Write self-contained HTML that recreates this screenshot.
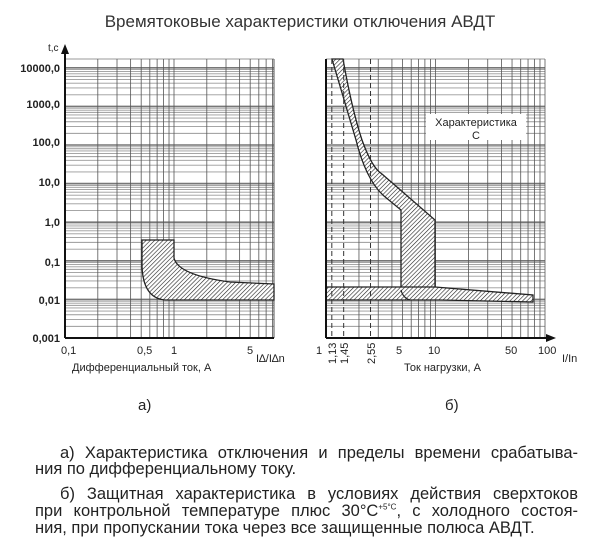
<!DOCTYPE html>
<html><head><meta charset="utf-8">
<style>
body{margin:0;background:#fff;width:600px;height:551px;overflow:hidden;position:relative;font-family:"Liberation Sans",sans-serif;}
svg{position:absolute;left:0;top:0}
.l{position:absolute;left:35px;width:543px;font-size:16.5px;line-height:17px;color:#222;text-align:justify;text-align-last:justify;white-space:nowrap;}
.l.n{text-align-last:left}
</style></head><body>
<svg id="s" width="600" height="551" xmlns="http://www.w3.org/2000/svg" font-family="Liberation Sans, sans-serif">
<defs>
<pattern id="h" width="3" height="3" patternUnits="userSpaceOnUse" patternTransform="rotate(45)">
<rect width="3" height="3" fill="#fff"/><line x1="0" y1="0" x2="0" y2="3" stroke="#222" stroke-width="1.2"/></pattern>
</defs>
<text x="300" y="27" font-size="17" text-anchor="middle" fill="#333">Времятоковые характеристики отключения АВДТ</text>
<g id="g"></g>
<g font-size="11" fill="#222" text-anchor="end" font-weight="bold">
<text x="60" y="72">10000,0</text><text x="60" y="108">1000,0</text><text x="60" y="146">100,0</text>
<text x="60" y="186">10,0</text><text x="60" y="226">1,0</text><text x="60" y="266">0,1</text>
<text x="60" y="304">0,01</text><text x="60" y="342">0,001</text>
</g>
<text x="48" y="51" font-size="10" fill="#222">t,c</text>
<g font-size="11" fill="#222">
<text x="61" y="354">0,1</text><text x="137" y="354">0,5</text><text x="171" y="354">1</text><text x="247" y="354">5</text>
<text x="256" y="362">I∆/I∆n</text>
<text x="72" y="371">Дифференциальный ток, А</text>
<text x="316" y="354">1</text><text x="396" y="354">5</text><text x="428" y="354">10</text>
<text x="505" y="354">50</text><text x="538" y="354">100</text><text x="562" y="362">I/In</text>
<text x="404" y="371">Ток нагрузки, А</text>
<text transform="translate(336,364) rotate(-90)">1,13</text>
<text transform="translate(348,364) rotate(-90)">1,45</text>
<text transform="translate(375,364) rotate(-90)">2,55</text>
</g>
<text x="138" y="410" font-size="15" fill="#222">а)</text>
<text x="445" y="410" font-size="15" fill="#222">б)</text>
</svg>
<div class="l" style="top:445px;left:60px;width:518px">а) Характеристика отключения и пределы времени срабатыва-</div>
<div class="l n" style="top:461px">ния по дифференциальному току.</div>
<div class="l" style="top:486px;left:60px;width:518px">б) Защитная характеристика в условиях действия сверхтоков</div>
<div class="l" style="top:503px">при контрольной температуре плюс 30°С<sup style="font-size:8px;line-height:0">+5°С</sup>, с холодного состоя-</div>
<div class="l n" style="top:520px">ния, при пропускании тока через все защищенные полюса АВДТ.</div>
<script>
const g=document.getElementById('g');let h='';
const Y=t=>338-38.6*(Math.log10(t)+3);
function grid(x0,x1,vs,X){
 for(let d=-3;d<=4;d++)for(let m=1;m<10;m++){const y=Y(m*Math.pow(10,d));if(y<59)continue;
  h+=`<line x1="${x0}" x2="${x1}" y1="${y}" y2="${y}" stroke="${m==1?'#777':'#999'}" stroke-width="${m==1?1.6:0.9}"/>`;}
 h+=`<line x1="${x0}" x2="${x1}" y1="59" y2="59" stroke="#999"/>`;
 vs.forEach(v=>{const x=X(v);h+=`<line x1="${x}" x2="${x}" y1="59" y2="338" stroke="#555" stroke-width="0.8"/>`;});
}
const XL=v=>65+109*Math.log10(v/0.1), XR=v=>326+109.5*Math.log10(v);
let vl=[];for(let i=2;i<=9;i++)vl.push(i/10);for(let i=1;i<=8;i++)vl.push(i);
grid(65,274,vl,XL);h+=`<line x1="274" x2="274" y1="59" y2="338" stroke="#555"/>`;
let vr=[];for(let i=2;i<=10;i++)vr.push(i);for(let i=20;i<=100;i+=10)vr.push(i);
grid(326,545,vr,XR);
h+=`<path d="M142,240 L174,240 L174,258 Q178,275 230,282 L274,284 L274,300 L165,300 Q143,298 142,266 Z" fill="url(#h)" stroke="#222" stroke-width="1.3"/>`;
h+=`<path d="M332,59 L343,59 Q352,110 362,140 Q372,168 382,174 L435,220 L435,290 L401,290 L401,210 L384,196 Q366,180 356,140 Q344,100 332,59 Z" fill="url(#h)" stroke="#222" stroke-width="1.3"/>`;
h+=`<path d="M326,287 L435,287 L533,295 L533,302 L440,300 L326,300 Z" fill="url(#h)" stroke="#222" stroke-width="1.3"/>`;
h+=`<path d="M401,290 Q403,298 410,300" fill="none" stroke="#222" stroke-width="1.2"/>`;
[1.13,1.45,2.55].forEach(v=>{const x=XR(v);h+=`<line x1="${x}" x2="${x}" y1="59" y2="338" stroke="#333" stroke-dasharray="5,3"/>`;});
h+=`<rect x="426" y="114" width="100" height="26" fill="#fff"/><text x="476" y="126" font-size="11" text-anchor="middle" fill="#222">Характеристика</text><text x="476" y="139" font-size="11" text-anchor="middle" fill="#222">С</text>`;
h+=`<line x1="65" y1="52" x2="65" y2="338" stroke="#111" stroke-width="2"/><path d="M61,54 L65,44 L69,54Z" fill="#111"/>`;
h+=`<line x1="65" y1="338" x2="274" y2="338" stroke="#111" stroke-width="2"/>`;
h+=`<line x1="326" y1="59" x2="326" y2="338" stroke="#111" stroke-width="2"/>`;
h+=`<line x1="326" y1="338" x2="548" y2="338" stroke="#111" stroke-width="2"/><path d="M546,334 L556,338 L546,342Z" fill="#111"/>`;
g.innerHTML=h;
</script>
</body></html>
